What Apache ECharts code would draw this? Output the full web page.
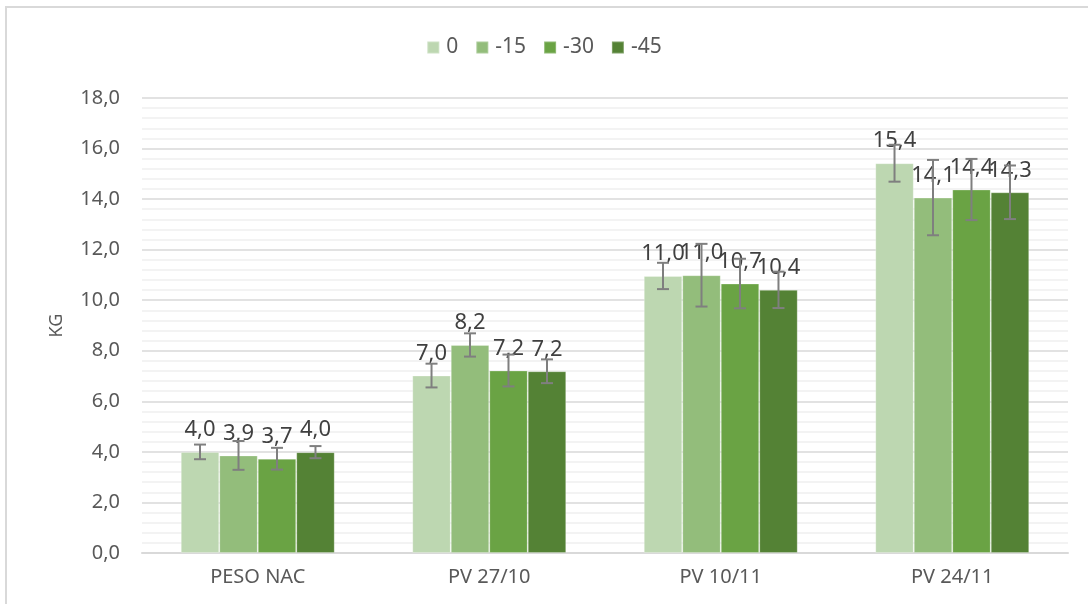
<!DOCTYPE html>
<html>
<head>
<meta charset="utf-8">
<script src="https://cdn.jsdelivr.net/npm/echarts@6/dist/echarts.min.js"></script>
<style>html,body{margin:0;padding:0;background:#fff;}#c{width:1088px;height:604px;}</style>
</head>
<body>
<div id="c"></div>
<script>
const categories = ['PESO NAC', 'PV 27/10', 'PV 10/11', 'PV 24/11'];
const seriesNames = ['0', '-15', '-30', '-45'];
const vals0 = [4.0, 7.02, 10.96, 15.42];
const vals15 = [3.86, 8.23, 10.99, 14.06];
const vals30 = [3.73, 7.22, 10.66, 14.38];
const vals45 = [3.99, 7.19, 10.41, 14.27];
const err0 = [0.29, 0.47, 0.52, 0.73];
const err15 = [0.57, 0.46, 1.24, 1.49];
const err30 = [0.43, 0.63, 0.98, 1.21];
const err45 = [0.24, 0.47, 0.72, 1.06];
const yTicks = { min: 0, max: 18, interval: 2 };

const values = [vals0, vals15, vals30, vals45];
const errors = [err0, err15, err30, err45];
const colors = ['#bdd7b1', '#93bd7b', '#6aa344', '#548235'];
const gapFrac = 0.335;
const font = 'Noto Sans';
const fmt = v => Number(v).toFixed(1).replace('.', ',');

const chart = echarts.init(document.getElementById('c'));
const series = [];
values.forEach((arr, i) => {
  series.push({
    name: seriesNames[i],
    type: 'bar',
    data: arr,
    barGap: '0%',
    barCategoryGap: (gapFrac * 100) + '%',
    itemStyle: { color: colors[i], borderColor: 'rgba(255,255,255,0.25)', borderWidth: 1 },
    label: {
      show: true, position: 'top', distance: 11,
      fontFamily: font, fontSize: 22, color: '#404040',
      formatter: p => fmt(p.value)
    },
    z: 2
  });
});
values.forEach((arr, i) => {
  series.push({
    name: 'err' + i,
    type: 'custom',
    data: arr.map((v, k) => [k, v, errors[i][k]]),
    z: 3,
    silent: true,
    renderItem: function (params, api) {
      const k = api.value(0), v = api.value(1), e = api.value(2);
      const catW = api.size([1, 0])[0];
      const barW = catW * (1 - gapFrac) / 4;
      const c = api.coord([k, v]);
      const x = c[0] + (i - 1.5) * barW;
      const yTop = api.coord([k, v + e])[1];
      const yBot = api.coord([k, v - e])[1];
      const cap = 6;
      const st = { stroke: '#7f7f7f', lineWidth: 2 };
      return {
        type: 'group',
        children: [
          { type: 'line', shape: { x1: x, y1: yTop, x2: x, y2: yBot }, style: st },
          { type: 'line', shape: { x1: x - cap, y1: yTop, x2: x + cap, y2: yTop }, style: st },
          { type: 'line', shape: { x1: x - cap, y1: yBot, x2: x + cap, y2: yBot }, style: st }
        ]
      };
    }
  });
});

chart.setOption({
  animation: false,
  textStyle: { fontFamily: font },
  graphic: [{
    type: 'rect', shape: { x: 6, y: 7, width: 1200, height: 700 },
    style: { fill: 'none', stroke: '#d9d9d9', lineWidth: 2 }, silent: true, z: 0
  }],
  legend: {
    data: seriesNames,
    top: 32, left: 'center',
    itemWidth: 12, itemHeight: 12, itemGap: 17,
    icon: 'rect',
    textStyle: { fontFamily: font, fontSize: 21, color: '#595959', padding: [0, 0, 0, 2] }
  },
  grid: { left: 142, right: 20, top: 98, bottom: 51 },
  xAxis: {
    type: 'category', data: categories,
    axisLine: { lineStyle: { color: '#d9d9d9', width: 2 } },
    axisTick: { show: false },
    axisLabel: { fontFamily: font, fontSize: 20, color: '#595959', margin: 14 }
  },
  yAxis: {
    type: 'value', min: yTicks.min, max: yTicks.max, interval: yTicks.interval,
    name: 'KG', nameLocation: 'middle', nameGap: 76, nameRotate: 90,
    nameTextStyle: { fontFamily: font, fontSize: 18, color: '#595959' },
    axisLine: { show: false }, axisTick: { show: false },
    axisLabel: { fontFamily: font, fontSize: 20, color: '#595959', margin: 22, formatter: v => fmt(v) },
    splitLine: { lineStyle: { color: '#d9d9d9', width: 1.5 } },
    minorTick: { show: false, splitNumber: 5 },
    minorSplitLine: { show: true, lineStyle: { color: '#efefef', width: 1.5 } }
  },
  series: series
});
</script>
</body>
</html>
